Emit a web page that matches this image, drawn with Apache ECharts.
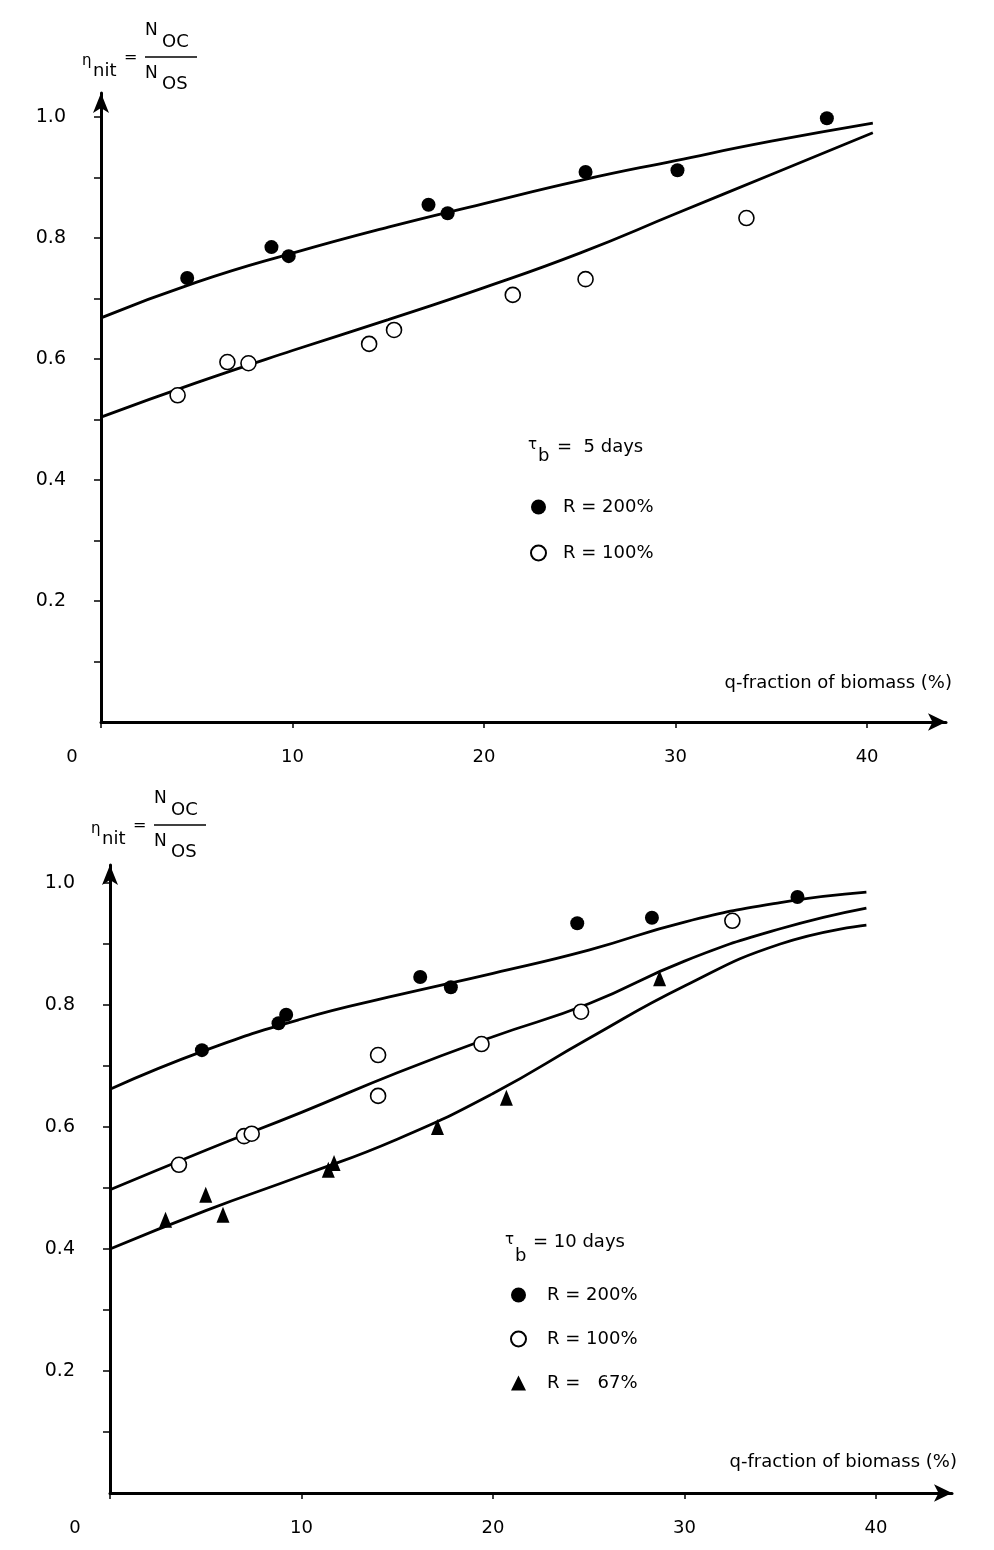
<!DOCTYPE html>
<html>
<head>
<meta charset="utf-8">
<title>eta_nit vs q-fraction of biomass</title>
<script src="https://cdn.jsdelivr.net/npm/echarts@6/dist/echarts.min.js"></script>
<style>
  html, body { margin: 0; padding: 0; background: #fff; }
  #chart { width: 994px; height: 1550px; }
</style>
</head>
<body>
<div id="chart"></div>
<script>
// upper panel, tau_b = 5 days
const top200Q = [4.5, 8.9, 9.8, 17.1, 18.1, 25.3, 30.1, 37.9]
const top200V = [0.734, 0.785, 0.770, 0.855, 0.841, 0.909, 0.912, 0.998]
const top100Q = [4.0, 6.6, 7.7, 14.0, 15.3, 21.5, 25.3, 33.7]
const top100V = [0.540, 0.595, 0.593, 0.625, 0.648, 0.706, 0.732, 0.833]
// fitted curves
const topFitQ = [0, 5, 10, 15, 20, 25, 30, 35, 40.3]
const topFit200 = [0.668, 0.727, 0.775, 0.818, 0.857, 0.895, 0.928, 0.960, 0.990]
const topFit100 = [0.504, 0.561, 0.614, 0.665, 0.718, 0.775, 0.840, 0.905, 0.974]

// lower panel, tau_b = 10 days
const bot200Q = [4.8, 8.8, 9.2, 16.2, 17.8, 24.4, 28.3, 35.9]
const bot200V = [0.726, 0.770, 0.784, 0.846, 0.829, 0.934, 0.943, 0.977]
const bot100Q = [3.6, 7.0, 7.4, 14.0, 14.0, 19.4, 24.6, 32.5]
const bot100V = [0.538, 0.585, 0.589, 0.718, 0.651, 0.736, 0.789, 0.938]
const bot67Q = [2.9, 5.0, 5.9, 11.4, 11.7, 17.1, 20.7, 28.7]
const bot67V = [0.448, 0.489, 0.456, 0.530, 0.541, 0.600, 0.648, 0.844]
const botFitQ = [0, 5, 10, 15, 20, 25, 30, 35, 39.5]
const botFit200 = [0.662, 0.726, 0.777, 0.816, 0.852, 0.890, 0.936, 0.968, 0.985]
const botFit100 = [0.497, 0.562, 0.624, 0.689, 0.748, 0.802, 0.872, 0.925, 0.959]
const botFit67 = [0.400, 0.463, 0.520, 0.580, 0.655, 0.745, 0.831, 0.900, 0.931]

// axis ticks / labels
const xTicks = [0, 10, 20, 30, 40]
const yTicks = [0.1, 0.2, 0.3, 0.4, 0.5, 0.6, 0.7, 0.8, 0.9, 1.0]
const yLabels = [0.2, 0.4, 0.6, 0.8, 1.0]

const FONT = 'DejaVu Sans'
const BLACK = '#000'

function pairs(xs, ys) {
  return xs.map((x, i) => [x, ys[i]])
}

function xAxisFor(idx, max, zeroPad) {
  return {
    gridIndex: idx,
    type: 'value',
    min: 0,
    max: max,
    axisLine: {
      symbol: ['none', 'arrow'],
      symbolSize: [13, 18],
      lineStyle: { color: BLACK, width: 3 }
    },
    axisTick: { customValues: xTicks, length: 6, lineStyle: { color: BLACK, width: 1.5 } },
    axisLabel: {
      customValues: xTicks,
      margin: 26,
      color: BLACK,
      fontFamily: FONT,
      fontSize: 18,
      formatter: v => v === 0 ? '{z|0}' : String(v),
      rich: { z: { fontFamily: FONT, fontSize: 18, color: BLACK, padding: [0, zeroPad, 0, 0] } }
    },
    splitLine: { show: false }
  }
}

function yAxisFor(idx, max) {
  return {
    gridIndex: idx,
    type: 'value',
    min: 0,
    max: max,
    axisLine: {
      show: true,
      symbol: ['none', 'arrow'],
      symbolSize: [12, 20],
      lineStyle: { color: BLACK, width: 3 }
    },
    axisTick: { show: true, customValues: yTicks, length: 7, lineStyle: { color: BLACK, width: 1.5 } },
    axisLabel: {
      customValues: yLabels,
      margin: 35,
      color: BLACK,
      fontFamily: FONT,
      fontSize: 19,
      formatter: v => v.toFixed(1)
    },
    splitLine: { show: false }
  }
}

function fitLine(idx, data) {
  return {
    type: 'line',
    xAxisIndex: idx,
    yAxisIndex: idx,
    data: data,
    smooth: 0.5,
    showSymbol: false,
    silent: true,
    z: 1,
    lineStyle: { color: BLACK, width: 2.8 }
  }
}

const filled = { color: BLACK, opacity: 1 }
const hollow = { color: '#fff', borderColor: BLACK, borderWidth: 1.6, opacity: 1 }

function dots(idx, name, data, symbol, size, style) {
  return {
    type: 'scatter',
    name: name,
    xAxisIndex: idx,
    yAxisIndex: idx,
    data: data,
    symbol: symbol,
    symbolSize: size,
    itemStyle: style,
    z: 3
  }
}

function txt(x, y, text, size, align) {
  return {
    type: 'text',
    x: x,
    y: y,
    style: { text: text, fontFamily: FONT, fontSize: size, fill: BLACK, align: align || 'left', verticalAlign: 'middle' }
  }
}

// eta_nit = N_OC / N_OS, dx/dy moves the whole formula
function etaLabel(dx, dy) {
  return [
    txt(82 + dx, 61 + dy, 'η', 15),
    txt(93 + dx, 71 + dy, 'nit', 18),
    txt(124 + dx, 58 + dy, '=', 16),
    txt(145 + dx, 31 + dy, 'N', 17),
    txt(162 + dx, 42 + dy, 'OC', 18),
    { type: 'line', shape: { x1: 145 + dx, y1: 57 + dy, x2: 197 + dx, y2: 57 + dy }, style: { stroke: BLACK, lineWidth: 1.5 } },
    txt(145 + dx, 74 + dy, 'N', 17),
    txt(162 + dx, 84 + dy, 'OS', 18)
  ]
}

const chart = echarts.init(document.getElementById('chart'), null, { renderer: 'canvas' })

chart.setOption({
  backgroundColor: '#fff',
  animation: false,
  grid: [
    { left: 101, top: 93, width: 845, height: 629 },
    { left: 110, top: 865, width: 842, height: 628 }
  ],
  xAxis: [xAxisFor(0, 44.12, 58), xAxisFor(1, 43.97, 70)],
  yAxis: [yAxisFor(0, 1.0397), yAxisFor(1, 1.0295)],
  legend: [
    {
      data: ['R = 200%', 'R = 100%'],
      orient: 'vertical',
      left: 525,
      top: 493,
      itemWidth: 15,
      itemHeight: 15,
      itemGap: 28,
      selectedMode: false,
      textStyle: { fontFamily: FONT, fontSize: 18, color: BLACK, padding: [0, 0, 0, 12] }
    },
    {
      data: ['R = 200%', 'R = 100%', 'R =   67%'],
      orient: 'vertical',
      left: 505,
      top: 1281,
      itemWidth: 15,
      itemHeight: 15,
      itemGap: 26,
      selectedMode: false,
      textStyle: { fontFamily: FONT, fontSize: 18, color: BLACK, padding: [0, 0, 0, 16] }
    }
  ],
  graphic: [
    ...etaLabel(0, 0),
    ...etaLabel(9, 768),
    // tau_b captions
    txt(528, 445, 'τ', 15),
    txt(538, 456, 'b', 18),
    txt(557, 447, '=  5 days', 18),
    txt(505, 1240, 'τ', 15),
    txt(515, 1256, 'b', 18),
    txt(533, 1242, '= 10 days', 18),
    // axis titles
    txt(952, 683, 'q-fraction of biomass (%)', 18, 'right'),
    txt(957, 1462, 'q-fraction of biomass (%)', 18, 'right')
  ],
  series: [
    fitLine(0, pairs(topFitQ, topFit200)),
    fitLine(0, pairs(topFitQ, topFit100)),
    dots(0, 'R = 200%', pairs(top200Q, top200V), 'circle', 14, filled),
    dots(0, 'R = 100%', pairs(top100Q, top100V), 'circle', 15, hollow),

    fitLine(1, pairs(botFitQ, botFit200)),
    fitLine(1, pairs(botFitQ, botFit100)),
    fitLine(1, pairs(botFitQ, botFit67)),
    dots(1, 'R = 200%', pairs(bot200Q, bot200V), 'circle', 14, filled),
    dots(1, 'R = 100%', pairs(bot100Q, bot100V), 'circle', 15, hollow),
    dots(1, 'R =   67%', pairs(bot67Q, bot67V), 'triangle', [13, 16], filled)
  ]
})
</script>
</body>
</html>
